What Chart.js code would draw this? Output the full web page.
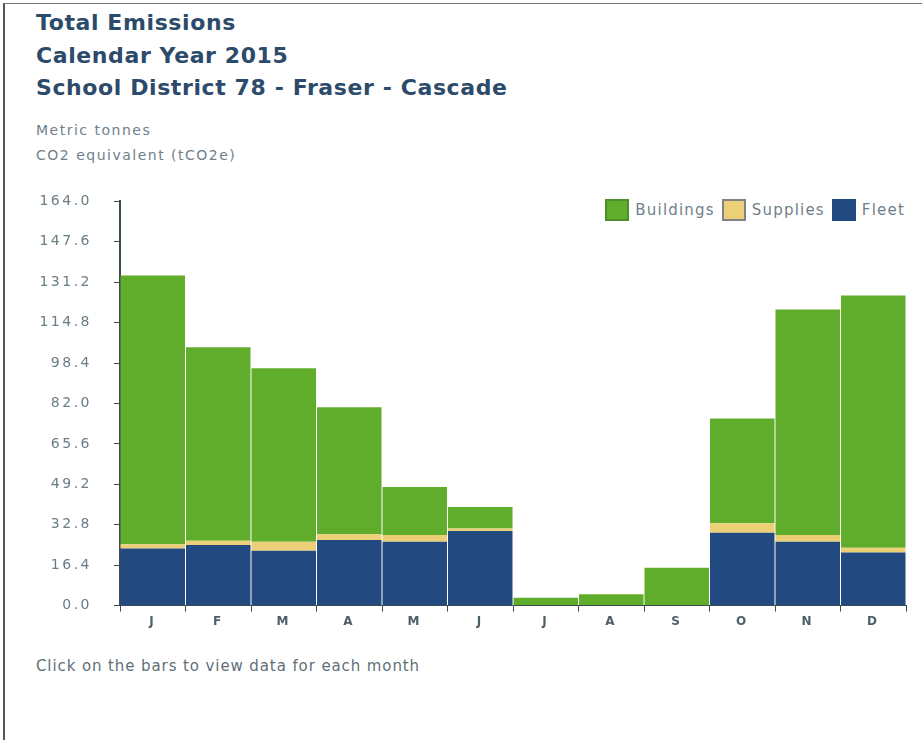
<!DOCTYPE html>
<html>
<head>
<meta charset="utf-8">
<script src="https://cdn.jsdelivr.net/npm/chart.js@4.4.0/dist/chart.umd.min.js"></script>
<style>
  body { margin: 0; background: #fff; font-family: "DejaVu Sans", Verdana, sans-serif; }
  .frame { position: absolute; left: 3px; top: 3px; width: 919px; height: 737px;
           border-left: 2px solid #555; border-top: 1px solid #777; }
  .title { position: absolute; left: 36px; top: 7px; color: #2c4a6a; font-weight: bold;
           font-size: 22px; line-height: 32.5px; letter-spacing: 0.6px; }
  .units { position: absolute; left: 36px; top: 118px; color: #6f7f89; font-size: 14px;
           line-height: 25px; letter-spacing: 1.5px; }
  .note { position: absolute; left: 36px; top: 657px; color: #5f6f78; font-size: 15px;
          letter-spacing: 0.9px; }
  #chart { position: absolute; left: 0; top: 171px; }
  .legend { position: absolute; top: 199px; right: 17px; display: flex; align-items: center;
            color: #6f7f89; font-size: 15px; letter-spacing: 1.2px; }
  .legend span.box { display: inline-block; width: 24px; height: 22px; margin: 0 6px 0 7px;
                     box-sizing: border-box; border: 2px solid; }
</style>
</head>
<body>
<div class="frame"></div>
<div class="title">Total Emissions<br>Calendar Year 2015<br>School District 78 - Fraser - Cascade</div>
<div class="units">Metric tonnes<br>CO2 equivalent (tCO2e)</div>
<div class="legend" id="legend"></div>
<canvas id="chart" width="922" height="465"></canvas>
<div class="note">Click on the bars to view data for each month</div>

<script>
const months = ['J', 'F', 'M', 'A', 'M', 'J', 'J', 'A', 'S', 'O', 'N', 'D'];
const fleet = [23.2, 24.6, 22.3, 26.6, 25.9, 30.3, 0, 0, 0, 29.6, 25.9, 21.5];
const supplies = [1.7, 1.7, 3.6, 2.3, 2.7, 1.0, 0, 0, 0, 3.8, 2.7, 2.0];
const buildings = [109.0, 78.5, 70.4, 51.6, 19.5, 8.7, 3.2, 4.6, 15.4, 42.5, 91.5, 102.3];
const yMax = 164;
const yStep = 16.4;

const green = '#60ad2c';
const yellow = '#ebd078';
const blue = '#224a80';

// legend, top to bottom of the stack
const legendItems = [
    { label: 'Buildings', fill: green, border: '#4c8f2a' },
    { label: 'Supplies', fill: yellow, border: '#7d8386' },
    { label: 'Fleet', fill: blue, border: blue }
];
const legend = document.getElementById('legend');
for (let item of legendItems) {
    const box = document.createElement('span');
    box.classList.add('box');
    box.style.background = item.fill;
    box.style.borderColor = item.border;
    const txt = document.createElement('span');
    txt.textContent = item.label;
    legend.append(box, txt);
}

const ctx = document.getElementById('chart').getContext('2d');

const spacing = {
    id: 'spacing',
    beforeDraw(chart) { chart.ctx.letterSpacing = '2.5px'; }
};

new Chart(ctx, { // eslint-disable-line
    type: 'bar',
    data: {
        labels: months,
        datasets: [
            { label: 'Fleet', data: fleet, backgroundColor: blue },
            { label: 'Supplies', data: supplies, backgroundColor: yellow },
            { label: 'Buildings', data: buildings, backgroundColor: green }
        ]
    },
    options: {
        responsive: false,
        animation: false,
        layout: { padding: { top: 11, right: 16, left: 0, bottom: 0 } },
        datasets: { bar: { barPercentage: 0.985, categoryPercentage: 1 } },
        plugins: { legend: { display: false }, tooltip: { enabled: false } },
        scales: {
            x: {
                stacked: true,
                afterFit: (s) => { s.height = 30; },
                border: { color: '#3c4a52', width: 1 },
                grid: { drawOnChartArea: false, tickLength: 6, tickColor: '#3c4a52', offset: true },
                ticks: { color: '#4f5f68', font: { family: 'DejaVu Sans', size: 12, weight: 'bold' }, padding: 3 }
            },
            y: {
                stacked: true,
                min: 0,
                max: yMax,
                afterFit: (s) => { s.width = 120; },
                border: { color: '#3c4a52', width: 2 },
                grid: { drawOnChartArea: false, tickLength: 6, tickColor: '#3c4a52' },
                ticks: {
                    stepSize: yStep,
                    padding: 22,
                    color: '#6a7c86',
                    font: { family: 'DejaVu Sans', size: 14 },
                    callback: (v) => v.toFixed(1)
                }
            }
        }
    },
    plugins: [spacing]
});
</script>
</body>
</html>
